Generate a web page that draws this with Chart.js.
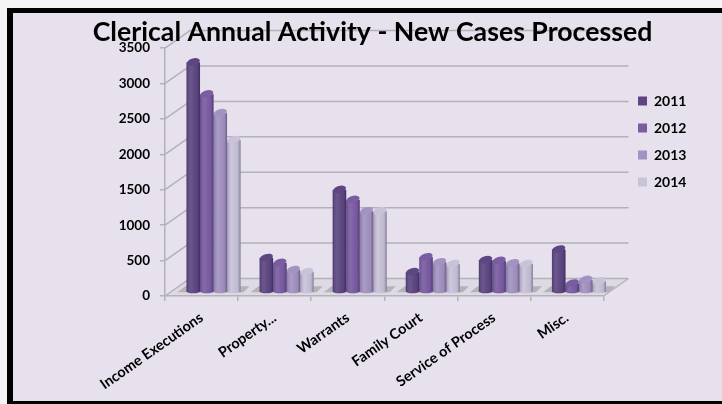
<!DOCTYPE html>
<html>
<head>
<meta charset="utf-8">
<style>
  html, body { margin: 0; padding: 0; width: 722px; height: 404px; overflow: hidden; background: #f4f4f4; }
  #frame { position: absolute; left: 7px; top: 8px; width: 715px; height: 396px; box-sizing: border-box;
           background: #e6e1ec; border: solid #000; border-width: 5px 0 3px 6px; }
  #chart { position: absolute; left: 23px; top: 13px; }
</style>
<script src="https://cdn.jsdelivr.net/npm/chart.js@4/dist/chart.umd.min.js"></script>
</head>
<body>
<div id="frame"></div>
<canvas id="chart" width="699" height="388"></canvas>
<script>
// Values
const categories = ['Income Executions', 'Property...', 'Warrants', 'Family Court', 'Service of Process', 'Misc.'];
const values2011 = [3240, 480, 1440, 280, 450, 600];
const values2012 = [2790, 410, 1300, 490, 440, 120];
const values2013 = [2525, 310, 1140, 420, 405, 170];
const values2014 = [2145, 280, 1140, 395, 395, 150];
const yMax = 3500;
const yStep = 500;

const GRID = '#b4b1b9';
const BAR_SHIFT = { x: 12, y: -4 };   // bars stand in the middle of the floor
const WALL_SHIFT = { x: 25, y: -17.5 }; // back wall behind the axes

// fake 3D: walls, floor, cylinders. everything is hung on the real scales
const fake3d = {
  id: 'fake3d',
  afterLayout(chart) {
    // legend sits in the upper right, not centred
    const lg = chart.legend;
    lg.left = 602;
    lg.top = 68;
    lg.right = 699;
    lg.bottom = 220;
  },
  beforeDraw(chart) {
    const { ctx, scales: { x, y } } = chart;
    const x0 = x.left, x1 = x.right, y0 = y.getPixelForValue(0);
    ctx.save();
    // floor
    ctx.fillStyle = '#dedae3';
    ctx.beginPath();
    ctx.moveTo(x0, y0);
    ctx.lineTo(x1, y0);
    ctx.lineTo(x1 + WALL_SHIFT.x, y0 + WALL_SHIFT.y);
    ctx.lineTo(x0 + WALL_SHIFT.x, y0 + WALL_SHIFT.y);
    ctx.closePath();
    ctx.fill();
    ctx.strokeStyle = GRID;
    ctx.lineWidth = 1.5;
    ctx.beginPath();
    for (const t of y.ticks) {
      const py = y.getPixelForValue(t.value);
      ctx.moveTo(x0, py);
      ctx.lineTo(x0 + WALL_SHIFT.x, py + WALL_SHIFT.y);
      ctx.lineTo(x1 + WALL_SHIFT.x, py + WALL_SHIFT.y);
    }
    ctx.moveTo(x1, y0);
    ctx.lineTo(x1 + WALL_SHIFT.x, y0 + WALL_SHIFT.y);
    ctx.stroke();
    ctx.restore();
  },
  beforeDatasetsDraw(chart) {
    const { ctx } = chart;
    ctx.save();
    ctx.translate(BAR_SHIFT.x, BAR_SHIFT.y);
    // grey shadow on the floor under every group
    const first = chart.getDatasetMeta(0).data;
    const last = chart.getDatasetMeta(chart.data.datasets.length - 1).data;
    ctx.fillStyle = '#b5b2ba';
    first.forEach((bar, i) => {
      const l = bar.x - bar.width / 2, r = last[i].x + last[i].width / 2, b = bar.base;
      ctx.beginPath();
      ctx.moveTo(l - 9, b + 1);
      ctx.lineTo(r + 3, b + 1);
      ctx.lineTo(r + 9, b - 5);
      ctx.lineTo(l - 1, b - 5);
      ctx.closePath();
      ctx.fill();
    });
  },
  afterDatasetsDraw(chart) {
    const { ctx } = chart;
    chart.data.datasets.forEach((ds, di) => {
      chart.getDatasetMeta(di).data.forEach(bar => {
        const l = bar.x - bar.width / 2, r = bar.x + bar.width / 2;
        const rx = bar.width / 2;
        // round bottom
        ctx.fillStyle = ds.backgroundColor;
        ctx.beginPath();
        ctx.ellipse(bar.x, bar.base, rx, 2, 0, 0, Math.PI * 2);
        ctx.fill();
        // cylinder shading
        const g = ctx.createLinearGradient(l, 0, r, 0);
        g.addColorStop(0, 'rgba(20,10,40,0.22)');
        g.addColorStop(0.35, 'rgba(255,255,255,0.08)');
        g.addColorStop(0.8, 'rgba(20,10,40,0.05)');
        g.addColorStop(1, 'rgba(20,10,40,0.38)');
        ctx.fillStyle = g;
        ctx.fillRect(l, bar.y, bar.width, bar.base - bar.y + 1);
        // lid
        ctx.fillStyle = ds.backgroundColor;
        ctx.beginPath();
        ctx.ellipse(bar.x, bar.y - 0.5, rx, 3.5, -0.28, 0, Math.PI * 2);
        ctx.fill();
      });
    });
    ctx.restore();
  }
};

function makeSeries(label, data, color) {
  return { label, data, backgroundColor: color, borderWidth: 0 };
}

new Chart(document.getElementById('chart'), {
  type: 'bar',
  data: {
    labels: categories,
    datasets: [
      makeSeries('2011', values2011, '#5d4682'),
      makeSeries('2012', values2012, '#7a5ca3'),
      makeSeries('2013', values2013, '#a393c2'),
      makeSeries('2014', values2014, '#c9c3da')
    ]
  },
  options: {
    responsive: false,
    animation: false,
    layout: { autoPadding: false, padding: { left: 47, right: 47 } },
    plugins: {
      title: {
        display: true,
        text: 'Clerical Annual Activity - New Cases Processed',
        color: '#000',
        font: { family: 'Lato', size: 26.7, weight: 'bold' },
        padding: { top: 3, bottom: 0 }
      },
      legend: {
        position: 'right',
        align: 'start',
        labels: {
          boxWidth: 9,
          boxHeight: 9,
          padding: 13,
          color: '#000',
          font: { family: 'Lato', size: 14, weight: 'bold' }
        }
      },
      tooltip: { enabled: false }
    },
    datasets: { bar: { categoryPercentage: 0.74, barPercentage: 1 } },
    scales: {
      x: {
        afterFit: s => { s.height = 105; },
        border: { color: GRID, width: 1.5 },
        grid: { drawOnChartArea: false, color: GRID, tickLength: 5, lineWidth: 1.5 },
        ticks: {
          autoSkip: false, minRotation: 35, maxRotation: 35, padding: 8,
          color: '#000', font: { family: 'Lato', size: 14.5, weight: 'bold' }
        }
      },
      y: {
        min: 0,
        max: yMax,
        afterFit: s => { s.width = 95; },
        border: { color: GRID, width: 1.5 },
        grid: { drawOnChartArea: false, color: GRID, tickLength: 5, lineWidth: 1.5 },
        ticks: {
          stepSize: yStep, padding: 10,
          format: { useGrouping: false },
          color: '#000', font: { family: 'Lato', size: 13.5, weight: 'bold' }
        }
      }
    }
  },
  plugins: [fake3d]
});
</script>
</body>
</html>
